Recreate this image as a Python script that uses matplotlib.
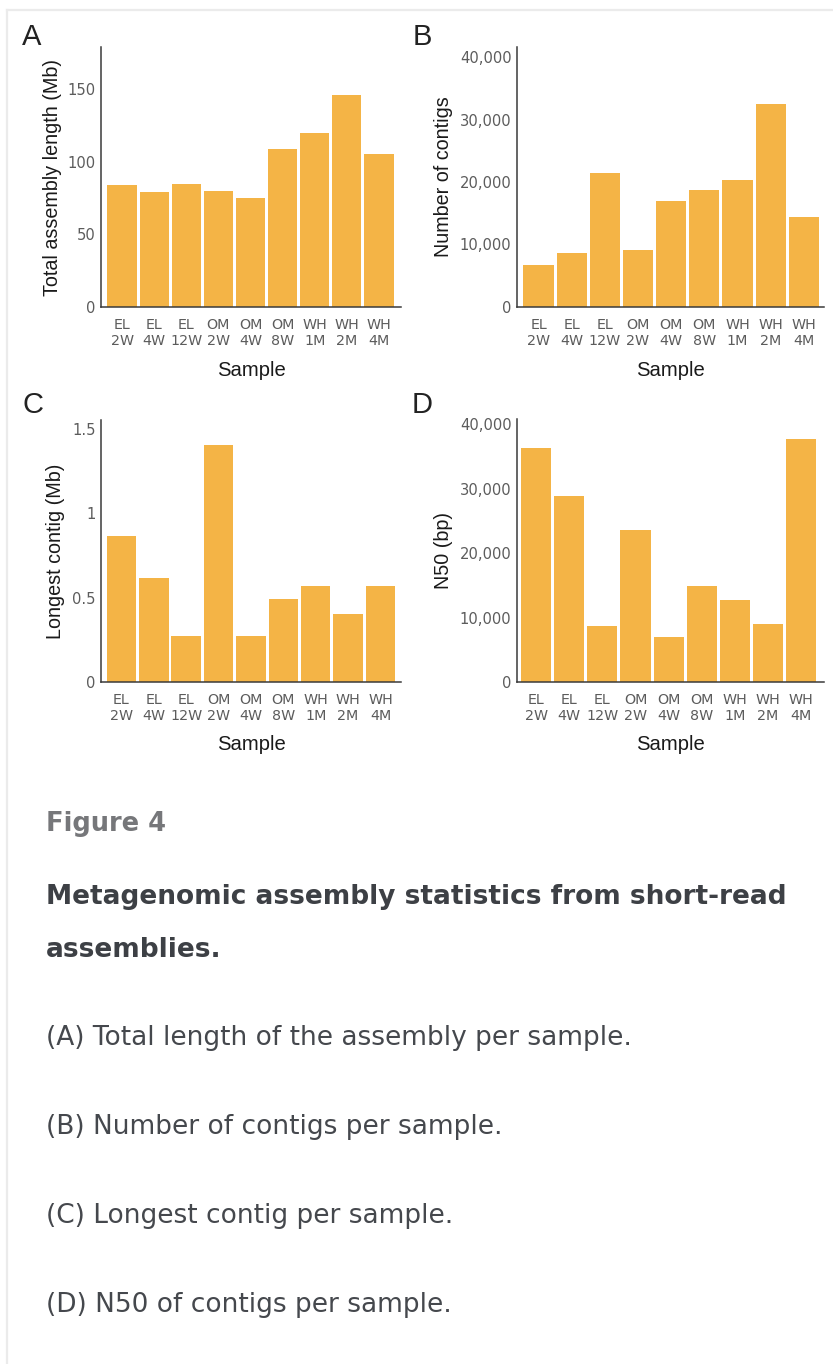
import matplotlib
matplotlib.use("Agg")
import matplotlib.pyplot as plt
from matplotlib.lines import Line2D
from matplotlib.ticker import FixedLocator

# ---------------- data ----------------
samples = ["EL\n2W", "EL\n4W", "EL\n12W", "OM\n2W", "OM\n4W", "OM\n8W", "WH\n1M", "WH\n2M", "WH\n4M"]
total_length_mb = [84, 79, 85, 80, 75, 109, 119.5, 146, 105.5]
num_contigs = [6800, 8600, 21500, 9050, 16900, 18700, 20400, 32500, 14400]
longest_contig_mb = [0.865, 0.614, 0.275, 1.405, 0.271, 0.493, 0.57, 0.406, 0.57]
n50_bp = [36300, 28900, 8700, 23600, 6950, 14900, 12650, 8950, 37700]

panel_letters = ["A", "B", "C", "D"]
y_labels = ["Total assembly length (Mb)", "Number of contigs", "Longest contig (Mb)", "N50 (bp)"]
y_ticks = [[0, 50, 100, 150], [0, 10000, 20000, 30000, 40000], [0, 0.5, 1, 1.5], [0, 10000, 20000, 30000, 40000]]
y_tick_labels = [["0", "50", "100", "150"],
                 ["0", "10,000", "20,000", "30,000", "40,000"],
                 ["0", "0.5", "1", "1.5"],
                 ["0", "10,000", "20,000", "30,000", "40,000"]]
series = [total_length_mb, num_contigs, longest_contig_mb, n50_bp]

caption_head = "Figure 4"
caption_title = ["Metagenomic assembly statistics from short-read", "assemblies."]
caption_items = ["(A) Total length of the assembly per sample.",
                 "(B) Number of contigs per sample.",
                 "(C) Longest contig per sample.",
                 "(D) N50 of contigs per sample."]

# ---------------- layout (pixels) ----------------
W, H = 833, 1364
DPI = 100
BAR_COLOR = "#F4B446"
SPINE = "#3a3a3a"
TICK_C = "#5c5c5c"

boxes = [(101, 47, 401, 307), (517, 47, 824, 307), (101, 420, 401, 682), (517, 419, 824, 682)]
ylims = [179, 41600, 1.553, 40800]
xlims = [(-0.656, 8.687), (-0.65, 8.61), (-0.632, 8.635), (-0.578, 8.69)]
ylabel_x = [-0.163, -0.241, -0.152, -0.241]
letter_pos = [(22, 45), (413, 45), (22, 413), (412, 413)]

fig = plt.figure(figsize=(W / DPI, H / DPI), dpi=DPI)
fig.patch.set_facecolor("white")

def fx(x):
    return x / W

def fy(y):
    return 1 - y / H

CHART_FONT = "Liberation Sans"
TICK_FONT = "DejaVu Sans"
CAP_FONT = "DejaVu Sans"

for i in range(4):
    l, t, r, b = boxes[i]
    ax = fig.add_axes([fx(l), fy(b), (r - l) / W, (b - t) / H])
    x = list(range(len(samples)))
    ax.bar(x, series[i], width=0.91, color=BAR_COLOR, linewidth=0)
    ax.set_xlim(*xlims[i])
    ax.set_ylim(0, ylims[i])
    ax.set_xticks(x)
    ax.set_xticklabels(samples, fontsize=10.3, color=TICK_C, family=TICK_FONT, linespacing=1.15)
    ax.yaxis.set_major_locator(FixedLocator(y_ticks[i]))
    ax.set_yticklabels(y_tick_labels[i], fontsize=10.6, color=TICK_C, family=TICK_FONT)
    ax.tick_params(axis="both", length=0)
    ax.tick_params(axis="x", pad=8)
    ax.tick_params(axis="y", pad=4)
    for s in ["top", "right"]:
        ax.spines[s].set_visible(False)
    for s in ["left", "bottom"]:
        ax.spines[s].set_color(SPINE)
        ax.spines[s].set_linewidth(1.1)
    ax.set_ylabel(y_labels[i], fontsize=14.2, family=CHART_FONT, color="#1a1a1a")
    ax.yaxis.set_label_coords(ylabel_x[i], 0.5)
    ax.yaxis.label.set_va("center")
    ax.set_xlabel("Sample", fontsize=14.6, family=CHART_FONT, color="#1a1a1a")
    xl_off = -63 / (b - t)
    ax.xaxis.set_label_coords(0.5, xl_off)
    ax.xaxis.label.set_va("center")
    lx, ly = letter_pos[i]
    fig.text(fx(lx), fy(ly), panel_letters[i], fontsize=21, family=CHART_FONT,
             color="#222222", ha="left", va="baseline")

# caption
fig.text(fx(46), fy(831), caption_head, fontsize=18.5, fontweight="bold",
         family=CAP_FONT, color="#76777a", ha="left", va="baseline")
for k, line in enumerate(caption_title):
    fig.text(fx(46), fy(904 + 53 * k), line, fontsize=19, fontweight="bold",
             family=CAP_FONT, color="#3d4045", ha="left", va="baseline")
for k, line in enumerate(caption_items):
    fig.text(fx(46), fy(1045 + 89 * k), line, fontsize=19, family=CAP_FONT,
             color="#45484d", ha="left", va="baseline")

# light border (top and left)
fig.add_artist(Line2D([fx(7), fx(833)], [fy(10), fy(10)], color="#ebebeb", linewidth=1.6,
                      transform=fig.transFigure))
fig.add_artist(Line2D([fx(7), fx(7)], [fy(10), fy(1364)], color="#ebebeb", linewidth=1.6,
                      transform=fig.transFigure))

fig.savefig("out.png", dpi=DPI, facecolor="white")
